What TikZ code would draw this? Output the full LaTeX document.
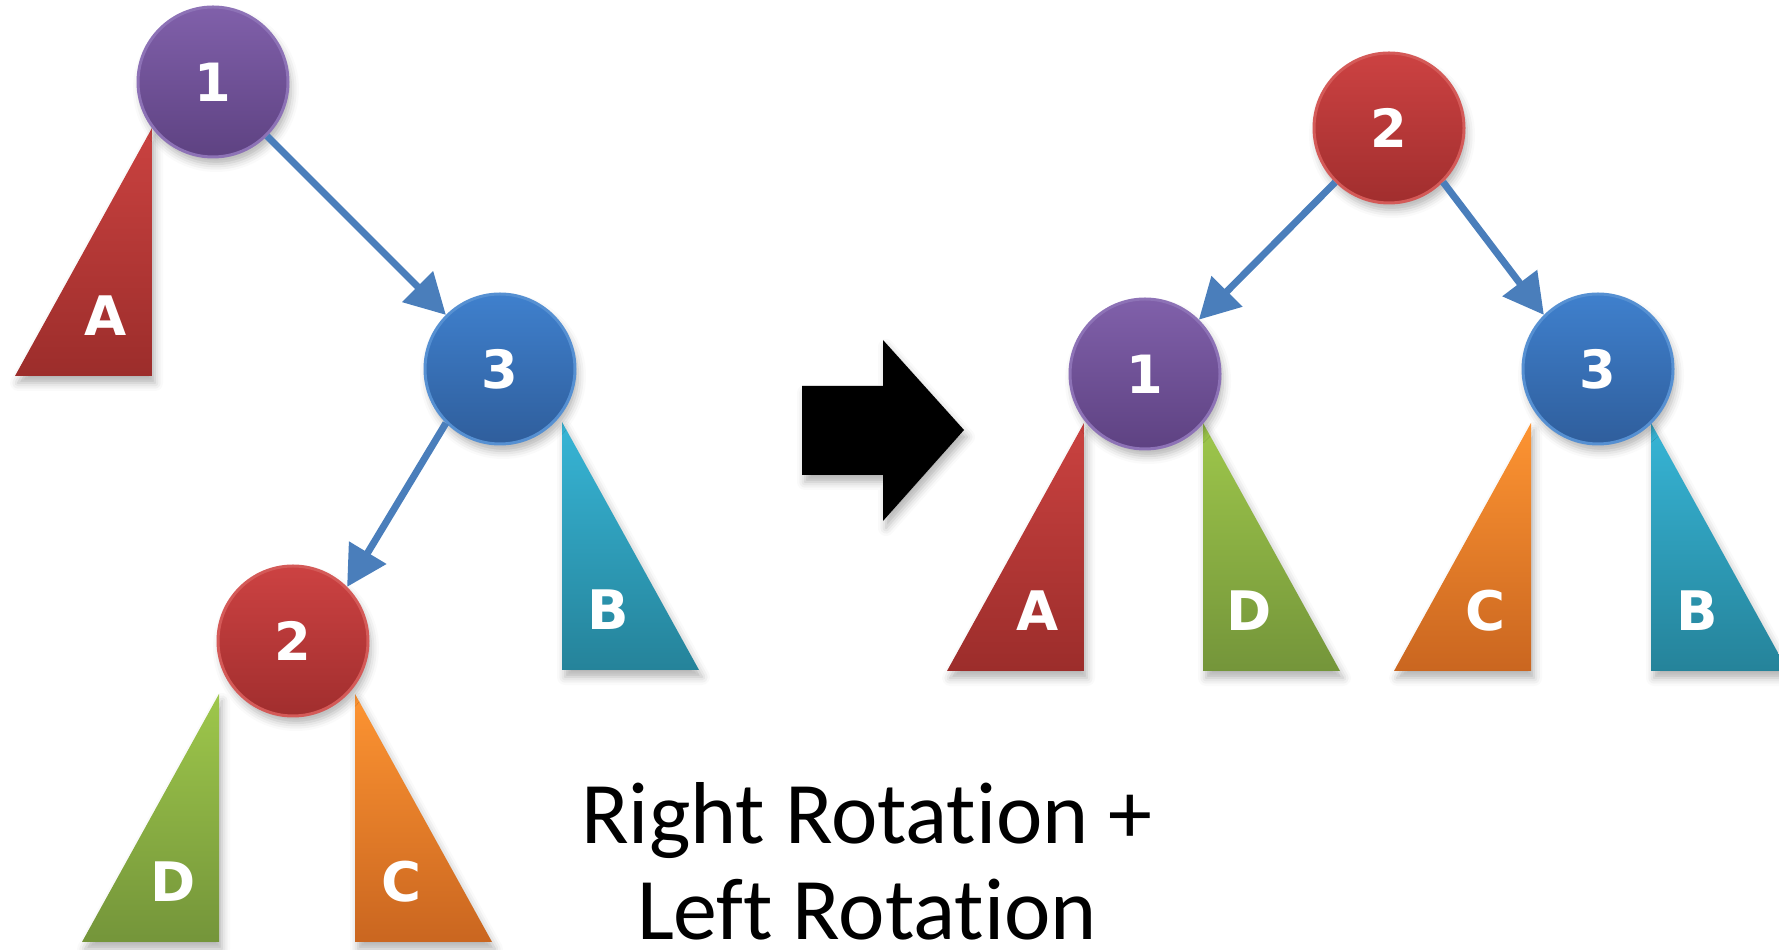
\documentclass[tikz,border=0pt]{standalone}
\usepackage{fontspec}
\setmainfont{Carlito}[Ligatures={NoCommon}]
\newfontfamily\keyfont{DejaVu Sans}
\usetikzlibrary{arrows.meta,shadows.blur}

% key colours (top / bottom of the gradient)
\definecolor{violettop}{HTML}{8060AA}\definecolor{violetbot}{HTML}{5E4282}\definecolor{violetedge}{HTML}{8D72B6}
\definecolor{cobalttop}{HTML}{3F80CD}\definecolor{cobaltbot}{HTML}{2F5E9C}\definecolor{cobaltedge}{HTML}{5690D2}
\definecolor{crimsontop}{HTML}{CC4242}\definecolor{crimsonbot}{HTML}{A12E2E}\definecolor{crimsonedge}{HTML}{D45A58}
% subtree colours
\definecolor{bricktop}{HTML}{CA4240}\definecolor{brickbot}{HTML}{9C2D2B}
\definecolor{tealtop}{HTML}{37B5D6}\definecolor{tealbot}{HTML}{25839A}
\definecolor{olivetop}{HTML}{9EC74B}\definecolor{olivebot}{HTML}{74953A}
\definecolor{ambertop}{HTML}{FD9432}\definecolor{amberbot}{HTML}{CA6620}
\definecolor{linkblue}{HTML}{4A7EBB}

\tikzset{
  soft/.style={blur shadow={shadow xshift=0.3mm, shadow yshift=-0.7mm, shadow blur radius=0.8mm, shadow opacity=30}},
  key/.style={circle, minimum size=15mm, inner sep=0pt, line width=0.3mm, soft,
    draw=#1edge, top color=#1top, bottom color=#1bot,
    text=white, font=\keyfont\bfseries\fontsize{15}{17}\selectfont},
  link/.style={draw=linkblue, line width=0.7mm, -{Triangle[width=4.2mm,length=4mm]}},
  sub/.style={text=white, inner sep=0pt, font=\keyfont\bfseries\fontsize{15.5}{17}\selectfont},
  caption/.style={anchor=base, inner sep=0pt, font=\fontsize{25}{30}\selectfont}
}

\begin{document}
\begin{tikzpicture}[x=0.1mm, y=-0.1mm]
\useasboundingbox (0,0) rectangle (1779,950);
\clip (0,0) rectangle (1779,950);

% subtrees: side/label/top x/top y/direction/colour
\foreach \s/\t/\x/\y/\d/\c in {L/A/152/128/-1/brick, L/B/562/422/1/teal, L/D/219/694/-1/olive, L/C/355/694/1/amber,
  R/A/1084/423/-1/brick, R/D/1203/423/1/olive, R/C/1531/423/-1/amber, R/B/1651/423/1/teal}{
  \shade[soft, top color=\c top, bottom color=\c bot] (\x,\y) -- (\x,\y+248) -- (\x+\d*137,\y+248) -- cycle;
  \node[sub] (\s\t) at (\x+\d*46,\y+188) {\t};}

% before
\node[key=violet] (L1) at (213,82) {1};
\node[key=cobalt] (L3) at (500,369) {3};
\node[key=crimson] (L2) at (293,641) {2};
\draw[link] (L1) -- (L3);
\draw[link] (L3.225) -- (L2.45);

% after
\node[key=crimson] (R2) at (1389,128) {2};
\node[key=violet] (R1) at (1145,374) {1};
\node[key=cobalt] (R3) at (1598,369) {3};
\draw[link] (R2) -- (R1);
\draw[link] (R2.-45) -- (R3.135);

% big arrow
\fill[black, soft] (802,386) -- (883,386) -- (883,340) -- (964,430) -- (883,521) -- (883,475) -- (802,475) -- cycle;

\node[caption] (rot1) at (867,844) {Right Rotation +};
\node[caption] (rot2) at (867,940) {Left Rotation};
\end{tikzpicture}
\end{document}
